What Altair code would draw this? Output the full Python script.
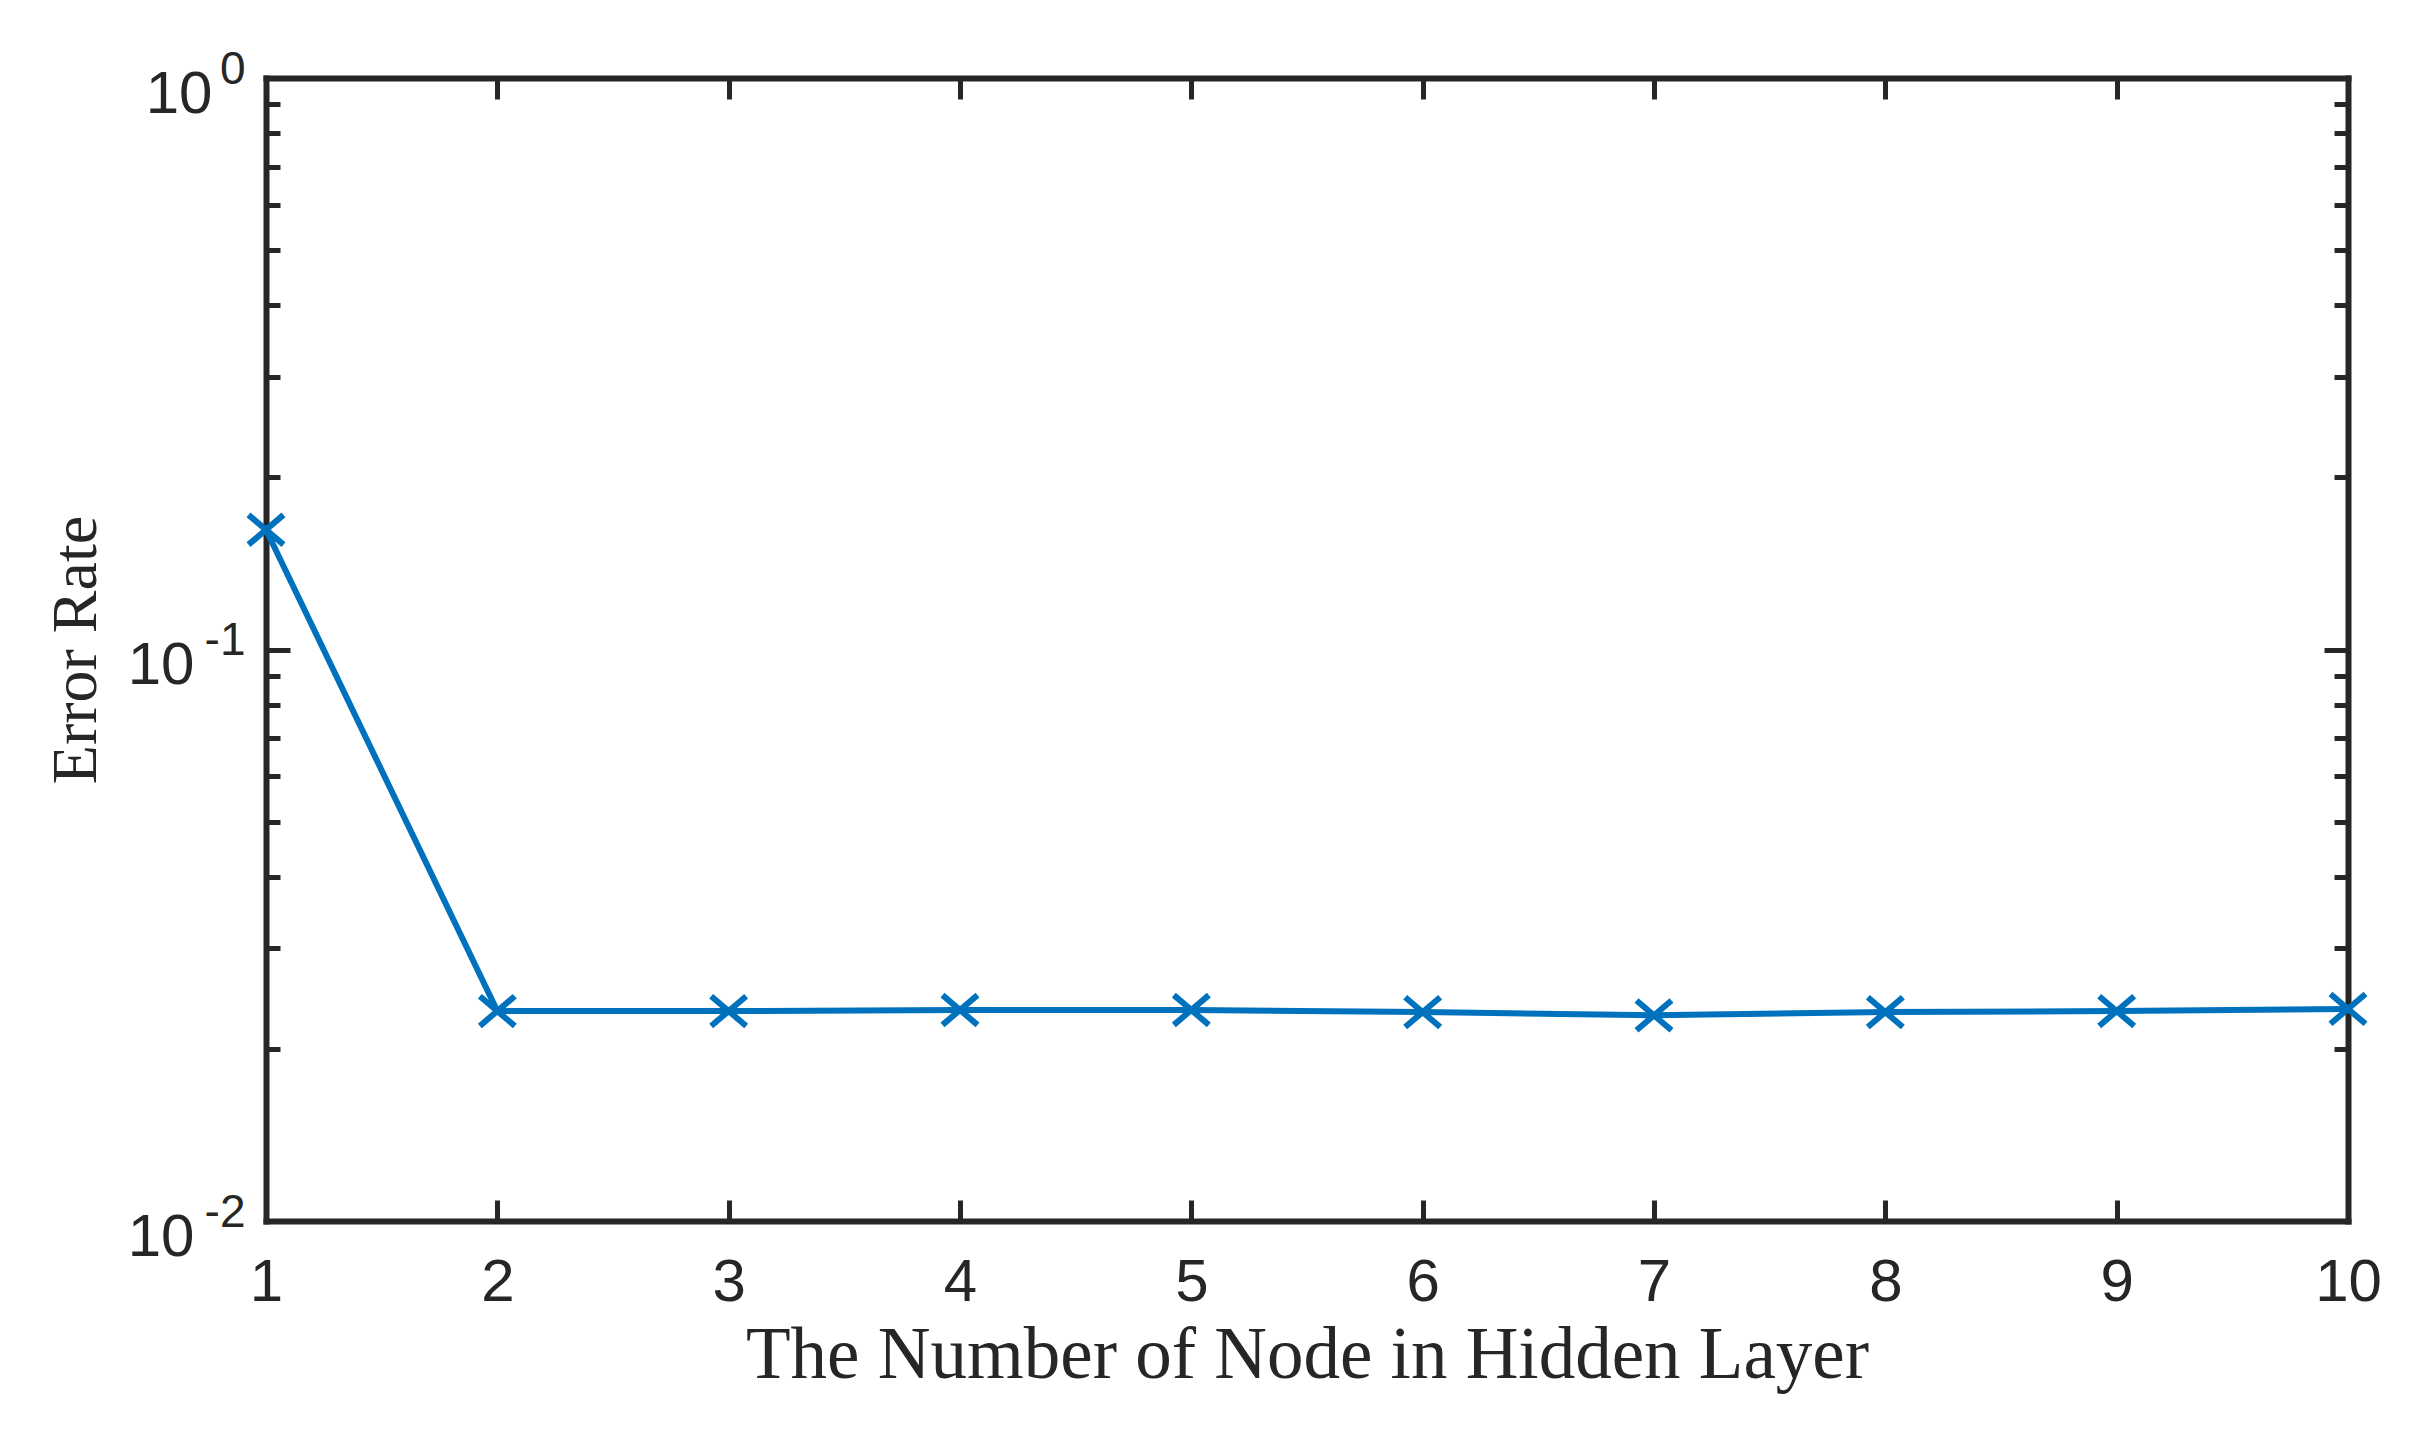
import altair as alt
import pandas as pd

# ---- data ----
nodes = [1, 2, 3, 4, 5, 6, 7, 8, 9, 10]
error_rate = [0.162, 0.0233, 0.0233, 0.0234, 0.0234, 0.0232, 0.0229, 0.0232, 0.0233, 0.0235]

x_tick_values = [1, 2, 3, 4, 5, 6, 7, 8, 9, 10]
y_major_values = [0.01, 0.1, 1]
y_minor_values = [0.02, 0.03, 0.04, 0.05, 0.06, 0.07, 0.08, 0.09,
                  0.2, 0.3, 0.4, 0.5, 0.6, 0.7, 0.8, 0.9]
y_label_base = "10"
y_label_exponents = ["-2", "-1", "0"]  # for 0.01, 0.1, 1

x_title = "The Number of Node in Hidden Layer"
y_title = "Error Rate"

# ---- styling ----
W, H = 2082, 1143
AX = "#262626"
BLUE = "#0072BD"
SANS = "Liberation Sans"
SERIF = "Liberation Serif"

df = pd.DataFrame({"node": nodes, "err": error_rate})

xscale = alt.Scale(domain=[1, 10], nice=False, zero=False)
yscale = alt.Scale(type="log", domain=[0.01, 1], nice=False)


def tick_axis(orient, offset, values, size, domain):
    kw = dict(
        orient=orient, offset=offset, values=values, labels=False,
        ticks=True, tickSize=size, tickWidth=5, tickColor=AX,
        grid=False, domain=domain,
    )
    if domain:
        kw.update(domainColor=AX, domainWidth=6, domainCap="square")
    return alt.Axis(**kw)


def y_text_axis(values, expr, size, padding, offset, **extra):
    return alt.Axis(
        orient="left", values=values, ticks=False, tickSize=0, domain=False,
        grid=False, labelExpr=expr, labelFont=SANS, labelFontSize=size,
        labelColor=AX, labelAlign="right", labelBaseline="alphabetic",
        labelOffset=offset, labelPadding=padding, labelFlush=False,
        labelOverlap=False, **extra,
    )


x_label_axis = alt.Axis(
    orient="bottom", values=x_tick_values, format="d", ticks=False, tickSize=0,
    domain=False, grid=False, labelFont=SANS, labelFontSize=60, labelColor=AX,
    labelBaseline="alphabetic", labelPadding=79, labelFlush=False,
    title=x_title, titleFont=SERIF, titleFontSize=73, titleFontWeight="normal",
    titleColor=AX, titleBaseline="alphabetic", titleY=156,
)

exp_expr = (
    f"datum.value >= 1 ? '{y_label_exponents[2]}' : "
    f"(datum.value >= 0.1 ? '{y_label_exponents[1]}' : '{y_label_exponents[0]}')"
)

# "10" for 10^-2 and 10^-1 (wider exponent) + axis title
y_base_axis_neg = y_text_axis(
    [0.01, 0.1], f"'{y_label_base}'", 60, 72, 34,
    title=y_title, titleFont=SERIF, titleFontSize=64, titleFontWeight="normal",
    titleColor=AX, titleBaseline="alphabetic", titleX=-171,
)
# "10" for 10^0 (narrow exponent)
y_base_axis_zero = y_text_axis([1], f"'{y_label_base}'", 60, 54, 34)
# exponents
y_exp_axis = y_text_axis(y_major_values, exp_expr, 46, 21, 5)

base = alt.Chart(df)

line = base.mark_line(color=BLUE, strokeWidth=6).encode(
    x=alt.X("node:Q", scale=xscale, axis=x_label_axis),
    y=alt.Y("err:Q", scale=yscale, axis=y_base_axis_neg),
)

points = base.mark_point(
    shape="M-1,-0.85L1,0.85M-1,0.85L1,-0.85", size=1225, filled=False,
    strokeWidth=6, color=BLUE, opacity=1,
).encode(
    x=alt.X("node:Q", scale=xscale, axis=None),
    y=alt.Y("err:Q", scale=yscale, title=None, axis=y_base_axis_zero),
)

exp_layer = base.mark_point(opacity=0, size=1).encode(
    x=alt.X("node:Q", scale=xscale, axis=None),
    y=alt.Y("err:Q", scale=yscale, title=None, axis=y_exp_axis),
)

# inward ticks + box: bottom and left
ticks_bl = base.mark_point(opacity=0, size=1).encode(
    x=alt.X("node:Q", scale=xscale, title=None,
            axis=tick_axis("top", -H, x_tick_values, 21, True)),
    y=alt.Y("err:Q", scale=yscale, title=None,
            axis=tick_axis("right", -W, y_major_values, 24, True)),
)
# inward ticks + box: top and right
ticks_tr = base.mark_point(opacity=0, size=1).encode(
    x=alt.X("node:Q", scale=xscale, title=None,
            axis=tick_axis("bottom", -H, x_tick_values, 21, True)),
    y=alt.Y("err:Q", scale=yscale, title=None,
            axis=tick_axis("left", -W, y_major_values, 24, True)),
)
# minor ticks left
minor_l = base.mark_point(opacity=0, size=1).encode(
    x=alt.X("node:Q", scale=xscale, axis=None),
    y=alt.Y("err:Q", scale=yscale, title=None,
            axis=tick_axis("right", -W, y_minor_values, 14, False)),
)
# minor ticks right
minor_r = base.mark_point(opacity=0, size=1).encode(
    x=alt.X("node:Q", scale=xscale, axis=None),
    y=alt.Y("err:Q", scale=yscale, title=None,
            axis=tick_axis("left", -W, y_minor_values, 14, False)),
)

chart = (
    alt.layer(ticks_bl, ticks_tr, minor_l, minor_r, exp_layer, line, points)
    .resolve_axis(x="independent", y="independent")
    .properties(
        width=W, height=H,
        autosize=alt.AutoSizeParams(type="none"),
        padding={"left": 258, "top": 70, "right": 80, "bottom": 200},
        background="white",
    )
    .configure_view(strokeWidth=0)
)

chart.save("out.html", embed_options={"renderer": "svg", "actions": False})
